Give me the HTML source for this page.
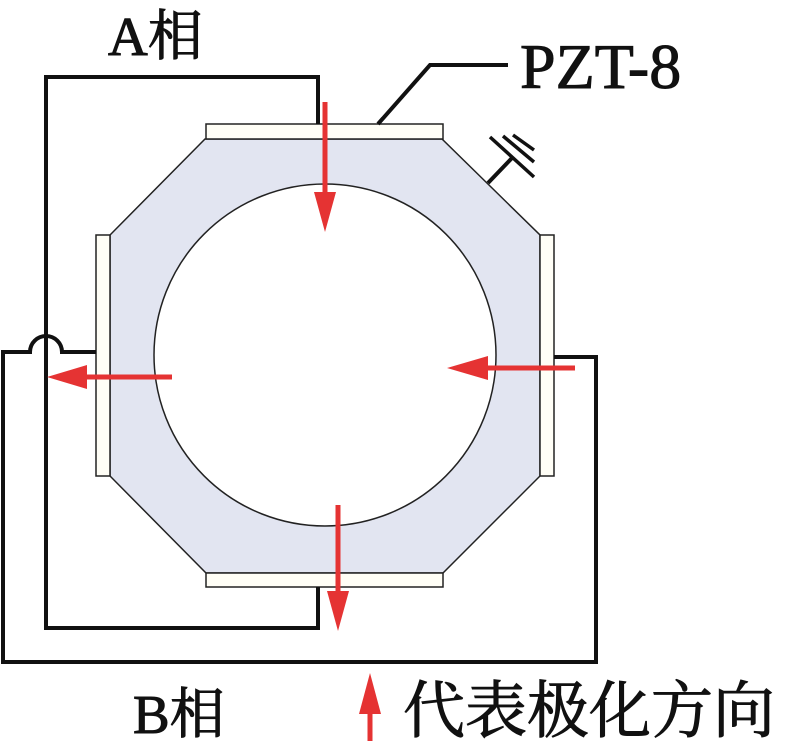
<!DOCTYPE html>
<html><head><meta charset="utf-8"><style>
html,body{margin:0;padding:0;background:#fff;}
svg{display:block;}
</style></head><body>
<svg width="787" height="741" viewBox="0 0 787 741" xmlns="http://www.w3.org/2000/svg">
<path d="M205,139 L442,139 L540,235 L540,476 L443,573 L206,573 L110,476 L110,235 Z" fill="#e2e5f1" stroke="#222" stroke-width="1.5"/>
<circle cx="325" cy="355" r="171" fill="#fff" stroke="#222" stroke-width="1.5"/>
<rect x="206" y="124" width="237" height="15" fill="#fffef6" stroke="#222" stroke-width="1.5"/>
<rect x="206" y="573" width="237" height="14" fill="#fffef6" stroke="#222" stroke-width="1.5"/>
<rect x="96" y="235" width="14" height="241" fill="#fffef6" stroke="#222" stroke-width="1.5"/>
<rect x="540" y="235" width="14" height="241" fill="#fffef6" stroke="#222" stroke-width="1.5"/>
<path d="M318,124 L318,77 L46,77 L46,628 L318,628 L318,587" fill="none" stroke="#111" stroke-width="4"/>
<path d="M96,352 L62,352 A16,16 0 0 0 30,352 L3,352 L3,662 L596,662 L596,357 L554,357" fill="none" stroke="#111" stroke-width="4"/>
<path d="M378,124 L430,65 L508,65" fill="none" stroke="#111" stroke-width="4"/>
<text x="520" y="88" font-family="Liberation Serif, serif" font-size="64" fill="#111" stroke="#111" stroke-width="1">PZT-8</text>
<path d="M488,183 L512,158" stroke="#111" stroke-width="4"/>
<path d="M490,137 L534,177 M503,136 L534,162 M513,135 L534,150" stroke="#111" stroke-width="3.5"/>
<g fill="#e53333" stroke="#e53333">
<line x1="325" y1="102" x2="325" y2="195" stroke-width="5"/>
<polygon points="314,192 336,192 325,232" stroke="none"/>
<line x1="338" y1="505" x2="338" y2="595" stroke-width="5"/>
<polygon points="327,591 349,591 338,631" stroke="none"/>
<line x1="172" y1="377" x2="85" y2="377" stroke-width="5"/>
<polygon points="47,377 87,365 87,389" stroke="none"/>
<line x1="575" y1="368" x2="485" y2="368" stroke-width="5"/>
<polygon points="447,368 488,356 488,380" stroke="none"/>
<line x1="370" y1="710" x2="370" y2="741" stroke-width="5"/>
<polygon points="370,673 359,714 381,714" stroke="none"/>
</g>
<text x="108" y="55" font-family="Liberation Serif, 'Noto Serif CJK SC', serif" font-size="55" fill="#111" stroke="#111" stroke-width="1">A相</text>
<text x="133" y="733" font-family="Liberation Serif, 'Noto Serif CJK SC', serif" font-size="55" fill="#111" stroke="#111" stroke-width="1">B相</text>
<text x="403" y="732" font-family="Liberation Serif, 'Noto Serif CJK SC', serif" font-size="62" fill="#111" stroke="#111" stroke-width="1">代表极化方向</text>
</svg>
</body></html>
